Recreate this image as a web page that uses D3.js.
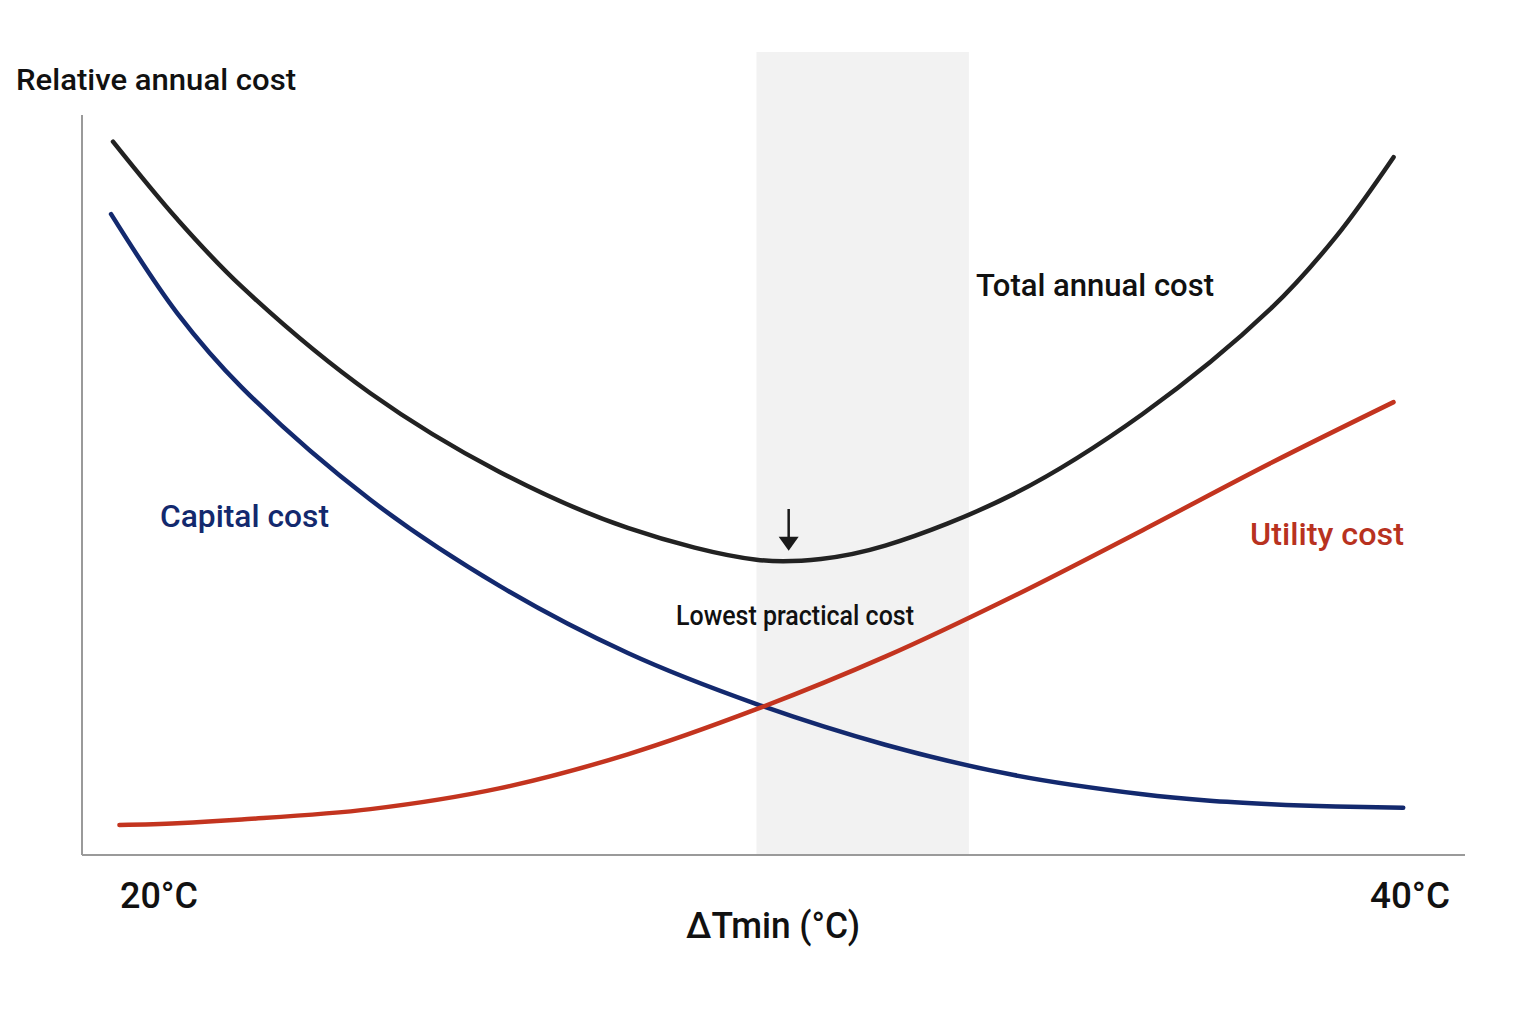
<!DOCTYPE html>
<html>
<head>
<meta charset="utf-8">
<script src="https://cdn.jsdelivr.net/npm/d3@7"></script>
<style>
  body { margin: 0; background: #fff; }
  text { font-family: Roboto, "Noto Sans", sans-serif; }
</style>
</head>
<body>
<div id="chart"></div>
<script>
// ΔTmin (°C) sample points
let totalT   = [20, 21, 22, 24, 26, 28, 30, 31, 32, 34, 36, 38, 39, 39.9];
let totalV   = [96.4, 85.9, 76.8, 62.4, 51.8, 44.2, 39.9, 40.0, 41.8, 48.8, 59.6, 73.9, 83.5, 94.3];

let capitalT = [19.97, 21, 22, 24, 26, 28, 30, 32, 34, 36, 37, 38, 39, 40.05];
let capitalV = [86.6, 73.2, 63.2, 48.0, 36.4, 27.3, 20.4, 14.9, 10.8, 8.2, 7.35, 6.85, 6.55, 6.4];

let utilityT = [20.1, 21, 22, 24, 26, 28, 30, 32, 34, 36, 38, 39.9];
let utilityV = [4.05, 4.3, 4.8, 6.2, 9.0, 13.6, 19.7, 26.8, 35.0, 43.9, 53.0, 61.2];

let xTicks = [20, 40];
let xTickLabels = ["20°C", "40°C"];
let band = [30, 33.3];     // lowest practical cost region
let optimumT = 30.5;
let optimumV = 39.5;

let width = 1536, height = 1024;
let margin = {top: 115, right: 71, bottom: 169, left: 82};

let svg = d3.select("#chart")
  .append("svg")
    .attr("width", width)
    .attr("height", height);

let x = d3.scaleLinear()
  .domain([20, 40])
  .range([113, 1400]);

let y = d3.scaleLinear()
  .domain([0, 100])
  .range([height - margin.bottom, margin.top]);

// shaded band
svg.append("rect")
  .attr("x", x(band[0]))
  .attr("y", 52)
  .attr("width", x(band[1]) - x(band[0]))
  .attr("height", y(0) - 52)
  .style("fill", "#f2f2f2");

// axes
svg.append("line")
  .attr("x1", margin.left).attr("x2", margin.left)
  .attr("y1", margin.top).attr("y2", y(0))
  .style("stroke", "#9a9a9a").style("stroke-width", 2);

svg.append("line")
  .attr("x1", margin.left).attr("x2", width - margin.right)
  .attr("y1", y(0)).attr("y2", y(0))
  .style("stroke", "#9a9a9a").style("stroke-width", 2);

let line = d3.line()
  .x(function(d) { return x(d[0]); })
  .y(function(d) { return y(d[1]); })
  .curve(d3.curveCatmullRom.alpha(0.5));

let series = [
  {t: totalT, v: totalV, color: "#222222"},
  {t: capitalT, v: capitalV, color: "#13296e"},
  {t: utilityT, v: utilityV, color: "#c3341f"}
];

series.forEach(function(s) {
  svg.append("path")
    .datum(d3.zip(s.t, s.v))
    .attr("d", line)
    .style("fill", "none")
    .style("stroke", s.color)
    .style("stroke-width", 4.5)
    .style("stroke-linecap", "round");
});

// arrow to the optimum
let tipY = y(optimumV) - 12;
svg.append("line")
  .attr("x1", x(optimumT)).attr("x2", x(optimumT))
  .attr("y1", 509).attr("y2", tipY - 10)
  .style("stroke", "#1a1a1a").style("stroke-width", 2.5);

svg.append("path")
  .attr("d", "M" + (x(optimumT) - 10) + "," + (tipY - 14) +
             " L" + (x(optimumT) + 10) + "," + (tipY - 14) +
             " L" + x(optimumT) + "," + tipY + " Z")
  .style("fill", "#1a1a1a");

// texts
function label(txt, px, py, size, color, len, anchor) {
  let t = svg.append("text")
    .attr("x", px)
    .attr("y", py)
    .attr("font-size", size)
    .attr("font-weight", 500)
    .attr("fill", color)
    .attr("text-anchor", anchor || "start")
    .text(txt);
  if (len) t.attr("textLength", len).attr("lengthAdjust", "spacingAndGlyphs");
  return t;
}

label("Relative annual cost", 16, 90, 30, "#111", 280);
label("Total annual cost", 976, 296, 32, "#111", 238);
label("Capital cost", 160, 527, 32, "#13296e", 169);
label("Utility cost", 1250, 545, 32, "#b8321f", 154);
label("Lowest practical cost", 676, 625, 27, "#111", 238);
label("ΔTmin (°C)", 686, 938, 37, "#111", 174);

label(xTickLabels[0], x(xTicks[0]) + 7, 908, 37, "#111", 78);
label(xTickLabels[1], x(xTicks[1]) + 50, 908, 37, "#111", 80, "end");
</script>
</body>
</html>
